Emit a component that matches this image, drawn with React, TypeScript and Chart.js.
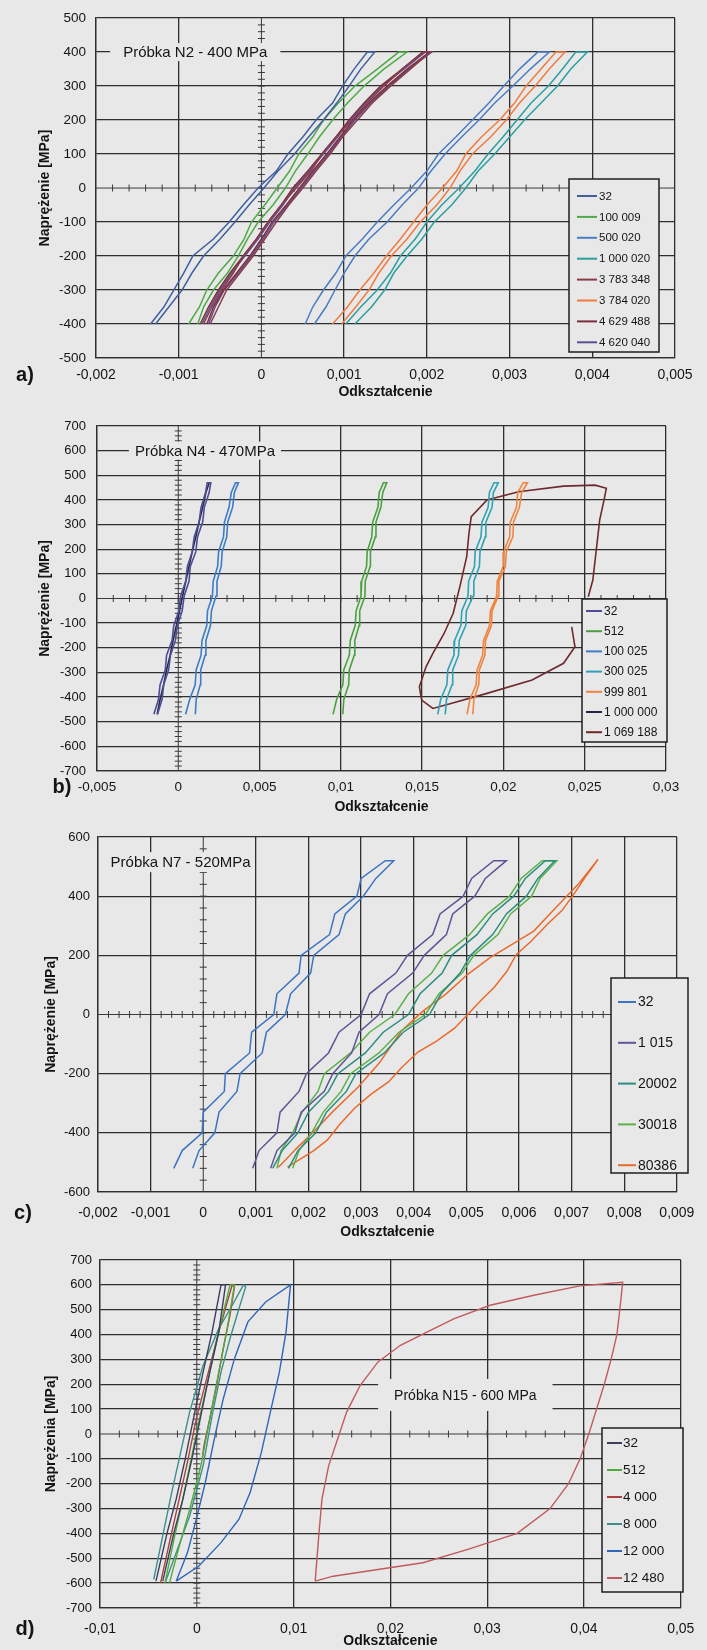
import React, { useEffect, useRef } from 'react';
import { Chart, registerables } from 'chart.js';

Chart.register(...registerables);

const FONT = "'Liberation Sans', Arial, Helvetica, sans-serif";
const PAGE_BG = '#e8e8e8';
const GRID = '#2e2e2e';
const INK = '#141414';

// ================= a) Próbka N2 - 400 MPa =================
const A_X_TICKS = [-0.002, -0.001, 0, 0.001, 0.002, 0.003, 0.004, 0.005];
const A_X_LABELS = ['-0,002', '-0,001', '0', '0,001', '0,002', '0,003', '0,004', '0,005'];
const A_Y_TICKS = [-500, -400, -300, -200, -100, 0, 100, 200, 300, 400, 500];
const A_STRESS = [-400, -350, -300, -250, -200, -150, -100, -50, 0, 50, 100, 150, 200, 250, 300, 350, 400];
const A_LABELS = ['32', '100 009', '500 020', '1 000 020', '3 783 348', '3 784 020', '4 629 488', '4 620 040'];
const A_COLORS = ['#3f5f9f', '#4daa45', '#4a7cc4', '#2a9fa0', '#8a3a48', '#f07b3f', '#7b2f3b', '#5d4f93'];
const A_32_UP = [-0.00128, -0.00112, -0.00096, -0.00084, -0.0007, -0.0005, -0.00032, -0.00015, 0.00003, 0.0002, 0.0004, 0.00057, 0.00075, 0.00091, 0.00106, 0.0012, 0.00137];
const A_32_DOWN = [0.00128, 0.00112, 0.00098, 0.00086, 0.00066, 0.0005, 0.00032, 0.00018, -0.00004, -0.00022, -0.00039, -0.00058, -0.00083, -0.00094, -0.00106, -0.00118, -0.00134];
const A_100009_UP = [-0.00077, -0.0007, -0.00058, -0.00041, -0.00028, -0.00017, -0.00004, 0.00014, 0.00029, 0.00041, 0.00056, 0.0007, 0.00086, 0.00104, 0.00124, 0.00148, 0.00176];
const A_100009_DOWN = [0.00166, 0.0014, 0.00113, 0.00093, 0.00075, 0.00062, 0.00045, 0.00034, 0.00019, 0.00004, -0.00012, -0.00021, -0.00034, -0.00052, -0.00066, -0.00075, -0.00088];
const A_500020_UP = [0.00064, 0.00078, 0.00089, 0.001, 0.00113, 0.0013, 0.00152, 0.0017, 0.0019, 0.00205, 0.00222, 0.00242, 0.00263, 0.00282, 0.00304, 0.00325, 0.00348];
const A_500020_DOWN = [0.00334, 0.00312, 0.00293, 0.00275, 0.00255, 0.00235, 0.00214, 0.002, 0.00181, 0.0016, 0.0014, 0.00122, 0.00102, 0.0009, 0.00075, 0.00062, 0.00053];
const A_1000020_UP = [0.00113, 0.00133, 0.00149, 0.0016, 0.00176, 0.00194, 0.00209, 0.0023, 0.00247, 0.00262, 0.00282, 0.003, 0.00318, 0.00338, 0.00358, 0.00374, 0.00394];
const A_1000020_DOWN = [0.0038, 0.00364, 0.00347, 0.00326, 0.00309, 0.00292, 0.00274, 0.00258, 0.00239, 0.00218, 0.002, 0.00186, 0.00168, 0.00156, 0.0014, 0.0012, 0.00102];
const A_3783348_UP = [-0.00062, -0.00052, -0.00042, -0.00026, -0.0001, 0.00004, 0.00018, 0.00033, 0.0005, 0.00066, 0.00083, 0.00098, 0.00116, 0.00134, 0.00156, 0.0018, 0.00204];
const A_3783348_DOWN = [0.00196, 0.0017, 0.00148, 0.00128, 0.0011, 0.0009, 0.00073, 0.0006, 0.00042, 0.00024, 0.00008, -0.00006, -0.00022, -0.00034, -0.00048, -0.0006, -0.0007];
const A_3784020_UP = [0.00097, 0.00114, 0.0013, 0.00142, 0.00157, 0.00176, 0.00192, 0.00212, 0.00228, 0.0024, 0.00255, 0.00277, 0.00296, 0.00312, 0.00331, 0.00348, 0.00367];
const A_3784020_DOWN = [0.00356, 0.00338, 0.0032, 0.00306, 0.00288, 0.00266, 0.00247, 0.00236, 0.00219, 0.002, 0.00184, 0.00168, 0.00151, 0.00136, 0.00119, 0.00104, 0.00086];
const A_4629488_UP = [-0.00066, -0.00058, -0.00046, -0.0003, -0.00014, 0.0, 0.00013, 0.0003, 0.00046, 0.00062, 0.00079, 0.00095, 0.00111, 0.0013, 0.00152, 0.00176, 0.00203];
const A_4629488_DOWN = [0.00195, 0.0017, 0.00144, 0.00124, 0.00106, 0.0009, 0.00073, 0.00056, 0.00038, 0.00024, 0.00008, -0.00006, -0.00022, -0.00038, -0.00052, -0.00064, -0.00074];
const A_4620040_UP = [-0.00064, -0.00056, -0.00045, -0.00028, -0.00012, 0.00002, 0.00015, 0.00032, 0.00048, 0.00064, 0.00081, 0.00097, 0.00113, 0.00132, 0.00154, 0.00178, 0.00206];
const A_4620040_DOWN = [0.00198, 0.00172, 0.00146, 0.00126, 0.00108, 0.00092, 0.00075, 0.00058, 0.0004, 0.00026, 0.0001, -0.00004, -0.0002, -0.00036, -0.0005, -0.00062, -0.00072];

// ================= b) Próbka N4 - 470MPa =================
const B_X_TICKS = [-0.005, 0, 0.005, 0.01, 0.015, 0.02, 0.025, 0.03];
const B_X_LABELS = ['-0,005', '0', '0,005', '0,01', '0,015', '0,02', '0,025', '0,03'];
const B_Y_TICKS = [-700, -600, -500, -400, -300, -200, -100, 0, 100, 200, 300, 400, 500, 600, 700];
const B_STRESS = [-470, -410, -350, -290, -230, -170, -110, -50, 10, 70, 130, 190, 250, 310, 370, 430, 470];
const B_LABELS = ['32', '512', '100 025', '300 025', '999 801', '1 000 000', '1 069 188'];
const B_COLORS = ['#4d4c96', '#4aa040', '#3d7cc6', '#2fa3b5', '#ef8440', '#262640', '#6e2a2e'];
const B_32_UP = [-0.00128, -0.001, -0.0009, -0.0006, -0.00048, -0.00018, -0.00006, 0.00024, 0.00036, 0.00066, 0.00074, 0.00108, 0.00118, 0.0015, 0.0016, 0.0019, 0.002];
const B_32_DOWN = [0.00178, 0.00168, 0.0014, 0.00128, 0.00098, 0.00086, 0.00056, 0.00046, 0.00014, 0.00004, -0.00028, -0.00038, -0.00072, -0.0008, -0.00112, -0.00122, -0.0015];
const B_512_UP = [0.01012, 0.01018, 0.01048, 0.01052, 0.01082, 0.01086, 0.01112, 0.01116, 0.01148, 0.0115, 0.0118, 0.01182, 0.01212, 0.01216, 0.01246, 0.01258, 0.01282];
const B_512_DOWN = [0.01262, 0.01236, 0.01228, 0.01196, 0.0119, 0.01162, 0.01158, 0.01128, 0.01124, 0.01094, 0.01088, 0.01058, 0.01052, 0.01018, 0.01012, 0.00974, 0.00952];
const B_100025_UP = [0.00105, 0.0011, 0.00135, 0.00138, 0.00165, 0.0017, 0.00198, 0.00204, 0.00232, 0.00238, 0.00264, 0.0027, 0.00298, 0.00304, 0.00334, 0.00345, 0.0037];
const B_100025_DOWN = [0.00352, 0.00326, 0.00312, 0.00284, 0.00278, 0.00248, 0.00242, 0.00215, 0.0021, 0.0018, 0.00175, 0.00146, 0.0014, 0.0011, 0.00104, 0.0007, 0.00045];
const B_300025_UP = [0.01642, 0.0165, 0.01684, 0.01688, 0.01724, 0.01728, 0.01768, 0.01772, 0.01814, 0.01818, 0.01852, 0.01856, 0.01888, 0.01892, 0.0193, 0.01938, 0.01968];
const B_300025_DOWN = [0.01942, 0.01914, 0.01906, 0.01868, 0.01862, 0.01826, 0.01822, 0.01786, 0.01782, 0.01744, 0.01738, 0.017, 0.01696, 0.01658, 0.01652, 0.01614, 0.01596];
const B_999801_UP = [0.01812, 0.01818, 0.01848, 0.01852, 0.01886, 0.0189, 0.01926, 0.0193, 0.01968, 0.01972, 0.02012, 0.02018, 0.02058, 0.02062, 0.02098, 0.02112, 0.02148];
const B_999801_DOWN = [0.02122, 0.02088, 0.0208, 0.02042, 0.02038, 0.02002, 0.01998, 0.01962, 0.01958, 0.0192, 0.01914, 0.01878, 0.01872, 0.01838, 0.01832, 0.01794, 0.01776];
const B_1000000_UP = [-0.0013, -0.00112, -0.0009, -0.00072, -0.0005, -0.00032, -0.00012, 0.00008, 0.00026, 0.00046, 0.00066, 0.00086, 0.00108, 0.00128, 0.0015, 0.0017, 0.0019];
const B_1069188_X = [0.0242, 0.0244, 0.0237, 0.02176, 0.01899, 0.01677, 0.01566, 0.01497, 0.01483, 0.01524, 0.01566, 0.01635, 0.01691, 0.01732, 0.01774, 0.01788, 0.01802, 0.01899, 0.02093, 0.0237, 0.02564, 0.02633, 0.02619, 0.02592, 0.02578, 0.02564, 0.0255, 0.02522];
const B_1069188_Y = [-115, -196, -263, -331, -385, -426, -446, -412, -358, -277, -223, -142, -60, 48, 170, 264, 332, 400, 433, 456, 460, 447, 400, 318, 237, 156, 75, 7];

// ================= c) Próbka N7 - 520MPa =================
const C_X_TICKS = [-0.002, -0.001, 0, 0.001, 0.002, 0.003, 0.004, 0.005, 0.006, 0.007, 0.008, 0.009];
const C_X_LABELS = ['-0,002', '-0,001', '0', '0,001', '0,002', '0,003', '0,004', '0,005', '0,006', '0,007', '0,008', '0,009'];
const C_Y_TICKS = [-600, -400, -200, 0, 200, 400, 600];
const C_STRESS = [-520, -460, -400, -330, -260, -200, -130, -60, 0, 70, 140, 200, 270, 340, 400, 460, 520];
const C_LABELS = ['32', '1 015', '20002', '30018', '80386'];
const C_COLORS = ['#3c74c4', '#5c5598', '#2b8c80', '#5cb04a', '#ea6a2c'];
const C_32_UP = [-0.0002, -0.00008, 0.00022, 0.0003, 0.00064, 0.0007, 0.00112, 0.0012, 0.00156, 0.00166, 0.00204, 0.0021, 0.00258, 0.0027, 0.00304, 0.00328, 0.00362];
const C_32_DOWN = [0.00346, 0.003, 0.00292, 0.0025, 0.0024, 0.00186, 0.00182, 0.0014, 0.00134, 0.00092, 0.00088, 0.00042, 0.0004, 0.0, -0.00002, -0.0004, -0.00056];
const C_1015_UP = [0.00128, 0.0014, 0.00174, 0.00186, 0.0023, 0.00246, 0.00282, 0.00296, 0.00334, 0.0035, 0.00398, 0.0042, 0.00462, 0.00474, 0.00516, 0.00536, 0.00576];
const C_1015_DOWN = [0.00552, 0.0051, 0.00494, 0.0045, 0.00436, 0.00388, 0.00366, 0.00316, 0.003, 0.00258, 0.00238, 0.00196, 0.00182, 0.00146, 0.0014, 0.00106, 0.00094];
const C_20002_UP = [0.00162, 0.0018, 0.00214, 0.00234, 0.00272, 0.0029, 0.00344, 0.0038, 0.0043, 0.00452, 0.00488, 0.00508, 0.0055, 0.00576, 0.00614, 0.00636, 0.00668];
const C_20002_DOWN = [0.0065, 0.00612, 0.0059, 0.0055, 0.0052, 0.00472, 0.00454, 0.00412, 0.0039, 0.00342, 0.00308, 0.00256, 0.00238, 0.002, 0.0018, 0.0015, 0.00132];
const C_30018_UP = [0.0017, 0.00182, 0.00206, 0.00228, 0.00262, 0.0028, 0.00334, 0.00372, 0.00422, 0.00448, 0.00492, 0.00514, 0.0056, 0.00584, 0.00624, 0.0064, 0.00672];
const C_30018_DOWN = [0.00644, 0.00604, 0.00582, 0.0054, 0.00506, 0.00456, 0.00434, 0.0039, 0.00364, 0.00316, 0.0028, 0.0023, 0.00218, 0.00188, 0.0017, 0.00148, 0.0014];
const C_80386_X = [0.00143, 0.00176, 0.00212, 0.00248, 0.00294, 0.00334, 0.00377, 0.00418, 0.00461, 0.00502, 0.00545, 0.00586, 0.00628, 0.00672, 0.00712, 0.0075, 0.00728, 0.00704, 0.00682, 0.00654, 0.00622, 0.00595, 0.00577, 0.00553, 0.00528, 0.00503, 0.00477, 0.00444, 0.00408, 0.00377, 0.00352, 0.00319, 0.00288, 0.0026, 0.00236, 0.0021, 0.0016];
const C_80386_Y = [-516, -455, -392, -325, -246, -165, -55, 12, 69, 135, 192, 236, 282, 365, 439, 524, 470, 406, 352, 305, 246, 203, 146, 92, 48, 1, -47, -89, -127, -179, -228, -269, -316, -370, -424, -460, -516];

// ================= d) Próbka N15 - 600 MPa =================
const D_X_TICKS = [-0.01, 0, 0.01, 0.02, 0.03, 0.04, 0.05];
const D_X_LABELS = ['-0,01', '0', '0,01', '0,02', '0,03', '0,04', '0,05'];
const D_Y_TICKS = [-700, -600, -500, -400, -300, -200, -100, 0, 100, 200, 300, 400, 500, 600, 700];
const D_LABELS = ['32', '512', '4 000', '8 000', '12 000', '12 480'];
const D_COLORS = ['#3b3e5e', '#52aa3c', '#a8403e', '#3d8f8a', '#3066b8', '#c05a5e'];
const D_32_X = [-0.00422, -0.00306, -0.00213, -0.0012, -0.00028, 0.00065, 0.00158, 0.0025, 0.00297, 0.00227, 0.00134, 0.00042, -0.00051, -0.00144, -0.00236, -0.00352];
const D_32_Y = [-592, -397, -262, -101, 74, 249, 411, 600, 600, 411, 249, 74, -101, -262, -397, -592];
const D_512_X = [-0.00329, -0.00236, -0.00144, -0.00051, 0.00042, 0.00134, 0.00227, 0.00343, 0.00389, 0.0032, 0.00227, 0.00134, 0.00042, -0.00074, -0.0019, -0.00283];
const D_512_Y = [-600, -424, -262, -87, 88, 249, 411, 600, 600, 438, 249, 61, -128, -303, -464, -600];
const D_4000_X = [-0.00375, -0.00283, -0.0019, -0.00097, -0.00005, 0.00111, 0.00227, 0.00366, 0.00389, 0.00343, 0.00273, 0.00204, 0.00134, 0.00074, 0.00056];
const D_4000_Y = [-600, -437, -276, -114, 61, 236, 411, 600, 592, 478, 343, 195, 61, -47, -101];
const D_8000_X = [-0.00445, -0.00352, -0.00259, -0.00167, -0.00074, 0.00065, 0.00227, 0.00366, 0.00482, 0.00505, 0.00436, 0.00343, 0.0025, 0.00158, 0.00065, -0.00074, -0.00213, -0.00329];
const D_8000_Y = [-585, -410, -235, -74, 88, 276, 424, 518, 600, 592, 505, 384, 249, 74, -128, -330, -478, -600];
const D_12000_X = [-0.00213, 0.00019, 0.0025, 0.00436, 0.00551, 0.00667, 0.0076, 0.00853, 0.00922, 0.00968, 0.00714, 0.00528, 0.00389, 0.00273, 0.00181, 0.00088, -0.00005, -0.00097, -0.00213];
const D_12000_Y = [-592, -532, -437, -343, -235, -74, 88, 249, 411, 600, 532, 451, 303, 141, -20, -195, -343, -478, -592];
const D_12480_X = [0.01223, 0.0126, 0.01293, 0.01362, 0.01455, 0.01548, 0.01687, 0.01872, 0.02104, 0.02382, 0.0266, 0.0303, 0.03494, 0.03957, 0.044, 0.0437, 0.0434, 0.0428, 0.0421, 0.0413, 0.0405, 0.0396, 0.0384, 0.0365, 0.0331, 0.028, 0.02336, 0.01872, 0.01409, 0.01223];
const D_12480_Y = [-592, -410, -262, -128, -20, 88, 195, 290, 357, 411, 464, 518, 559, 596, 610, 500, 400, 300, 200, 100, 0, -100, -200, -300, -400, -464, -518, -545, -572, -592];

// ---------- helpers ----------
type Pt = { x: number; y: number };
type Series = { label: string; color: string; points: Pt[] };

function loop(up: number[], down: number[], s: number[]): Pt[] {
  const pts = up.map((x, i) => ({ x, y: s[i] }));
  down.forEach((x, i) => pts.push({ x, y: s[s.length - 1 - i] }));
  return pts;
}
function pairs(xs: number[], ys: number[]): Pt[] {
  return xs.map((x, i) => ({ x, y: ys[i] }));
}

const A_SERIES: Series[] = [
  loop(A_32_UP, A_32_DOWN, A_STRESS),
  loop(A_100009_UP, A_100009_DOWN, A_STRESS),
  loop(A_500020_UP, A_500020_DOWN, A_STRESS),
  loop(A_1000020_UP, A_1000020_DOWN, A_STRESS),
  loop(A_3783348_UP, A_3783348_DOWN, A_STRESS),
  loop(A_3784020_UP, A_3784020_DOWN, A_STRESS),
  loop(A_4629488_UP, A_4629488_DOWN, A_STRESS),
  loop(A_4620040_UP, A_4620040_DOWN, A_STRESS),
].map((points, i) => ({ label: A_LABELS[i], color: A_COLORS[i], points }));

const B_SERIES: Series[] = [
  loop(B_32_UP, B_32_DOWN, B_STRESS),
  loop(B_512_UP, B_512_DOWN, B_STRESS),
  loop(B_100025_UP, B_100025_DOWN, B_STRESS),
  loop(B_300025_UP, B_300025_DOWN, B_STRESS),
  loop(B_999801_UP, B_999801_DOWN, B_STRESS),
  pairs(B_1000000_UP, B_STRESS),
  pairs(B_1069188_X, B_1069188_Y),
].map((points, i) => ({ label: B_LABELS[i], color: B_COLORS[i], points }));

const C_SERIES: Series[] = [
  loop(C_32_UP, C_32_DOWN, C_STRESS),
  loop(C_1015_UP, C_1015_DOWN, C_STRESS),
  loop(C_20002_UP, C_20002_DOWN, C_STRESS),
  loop(C_30018_UP, C_30018_DOWN, C_STRESS),
  pairs(C_80386_X, C_80386_Y),
].map((points, i) => ({ label: C_LABELS[i], color: C_COLORS[i], points }));

const D_SERIES: Series[] = [
  pairs(D_32_X, D_32_Y),
  pairs(D_512_X, D_512_Y),
  pairs(D_4000_X, D_4000_Y),
  pairs(D_8000_X, D_8000_Y),
  pairs(D_12000_X, D_12000_Y),
  pairs(D_12480_X, D_12480_Y),
].map((points, i) => ({ label: D_LABELS[i], color: D_COLORS[i], points }));

type PanelCfg = {
  top: number;
  height: number;
  plot: { left: number; right: number; top: number; bottom: number };
  xTicks: number[];
  xLabels: string[];
  yTicks: number[];
  xMinor: number;
  yMinor: number;
  series: Series[];
  lineWidth: number;
  yTitle: string;
  yTitleX: number;
  yLabelRight: number;
  xLabelY: number;
  xTitleY: number;
  xFont: number;
  yFont: number;
  tag: { text: string; x: number; y: number; size: number; padX: number; h: number };
  legend: { x: number; y: number; w: number; h: number; first: number; gap: number; lx0: number; lx1: number; tx: number; size: number };
  letter: { text: string; x: number; y: number };
};

const isZero = (v: any) => typeof v === 'number' && Math.abs(v) < 1e-12;

function decorPlugin(cfg: PanelCfg) {
  return {
    id: 'decor',
    beforeDatasetsDraw(chart: any) {
      const { ctx, chartArea: ca } = chart;
      const xs = chart.scales.x;
      const ys = chart.scales.y;
      const x0 = xs.getPixelForValue(0);
      const y0 = ys.getPixelForValue(0);
      const xMin = cfg.xTicks[0];
      const xMax = cfg.xTicks[cfg.xTicks.length - 1];
      const yMin = cfg.yTicks[0];
      const yMax = cfg.yTicks[cfg.yTicks.length - 1];
      ctx.save();
      ctx.strokeStyle = '#3a3a3a';
      ctx.lineWidth = 1;
      ctx.beginPath();
      ctx.moveTo(ca.left, y0);
      ctx.lineTo(ca.right, y0);
      ctx.moveTo(x0, ca.top);
      ctx.lineTo(x0, ca.bottom);
      const nx = Math.round((xMax - xMin) / cfg.xMinor);
      for (let i = 1; i < nx; i++) {
        const px = xs.getPixelForValue(xMin + i * cfg.xMinor);
        ctx.moveTo(px, y0 - 3.5);
        ctx.lineTo(px, y0 + 3.5);
      }
      const ny = Math.round((yMax - yMin) / cfg.yMinor);
      for (let i = 1; i < ny; i++) {
        const py = ys.getPixelForValue(yMin + i * cfg.yMinor);
        ctx.moveTo(x0 - 3.5, py);
        ctx.lineTo(x0 + 3.5, py);
      }
      ctx.stroke();
      ctx.restore();
    },
    afterDraw(chart: any) {
      const { ctx } = chart;
      const xs = chart.scales.x;
      const ys = chart.scales.y;
      ctx.save();
      const t = cfg.tag;
      const tx = xs.getPixelForValue(t.x);
      const ty = ys.getPixelForValue(t.y);
      ctx.font = `${t.size}px ${FONT}`;
      const w = ctx.measureText(t.text).width;
      ctx.fillStyle = PAGE_BG;
      ctx.fillRect(tx - w / 2 - t.padX, ty - t.h / 2, w + 2 * t.padX, t.h);
      ctx.fillStyle = INK;
      ctx.textAlign = 'center';
      ctx.textBaseline = 'middle';
      ctx.fillText(t.text, tx, ty + 1);
      const L = cfg.legend;
      const oy = cfg.top;
      ctx.fillStyle = PAGE_BG;
      ctx.fillRect(L.x, L.y - oy, L.w, L.h);
      ctx.strokeStyle = '#1e1e1e';
      ctx.lineWidth = 1.5;
      ctx.strokeRect(L.x, L.y - oy, L.w, L.h);
      ctx.font = `${L.size}px ${FONT}`;
      ctx.textAlign = 'left';
      ctx.textBaseline = 'middle';
      cfg.series.forEach((s, i) => {
        const yy = L.first + i * L.gap - oy;
        ctx.strokeStyle = s.color;
        ctx.lineWidth = 2;
        ctx.beginPath();
        ctx.moveTo(L.lx0, yy);
        ctx.lineTo(L.lx1, yy);
        ctx.stroke();
        ctx.fillStyle = INK;
        ctx.fillText(s.label, L.tx, yy + 0.5);
      });
      ctx.font = `bold 20px ${FONT}`;
      ctx.fillStyle = INK;
      ctx.textAlign = 'center';
      ctx.textBaseline = 'middle';
      ctx.fillText(cfg.letter.text, cfg.letter.x, cfg.letter.y - oy);
      ctx.restore();
    },
  };
}

function Panel({ cfg }: { cfg: PanelCfg }) {
  const ref = useRef<HTMLCanvasElement | null>(null);
  useEffect(() => {
    const canvas = ref.current;
    if (!canvas) return;
    const p = cfg.plot;
    const xMin = cfg.xTicks[0];
    const xMax = cfg.xTicks[cfg.xTicks.length - 1];
    const yMin = cfg.yTicks[0];
    const yMax = cfg.yTicks[cfg.yTicks.length - 1];
    const xLH = cfg.xFont * 1.2;
    const gridColor = (c: any) => (c.tick && isZero(c.tick.value) ? 'rgba(0,0,0,0)' : GRID);
    const chart = new Chart(canvas, {
      type: 'scatter',
      data: {
        datasets: cfg.series.map((s) => ({
          label: s.label,
          data: s.points,
          showLine: true,
          borderColor: s.color,
          backgroundColor: s.color,
          borderWidth: cfg.lineWidth,
          pointRadius: 0,
          pointHoverRadius: 0,
          tension: 0,
          fill: false,
        })),
      },
      options: {
        responsive: false,
        animation: false,
        events: [],
        layout: { padding: { left: 0, right: 707 - p.right, top: p.top - cfg.top, bottom: 0 } },
        plugins: { legend: { display: false }, tooltip: { enabled: false }, title: { display: false } },
        scales: {
          x: {
            type: 'linear',
            position: 'bottom',
            min: xMin,
            max: xMax,
            afterBuildTicks: (s: any) => {
              s.ticks = cfg.xTicks.map((v) => ({ value: v }));
            },
            afterFit: (s: any) => {
              s.height = cfg.top + cfg.height - p.bottom;
            },
            ticks: {
              autoSkip: false,
              maxRotation: 0,
              minRotation: 0,
              padding: cfg.xLabelY - p.bottom - xLH / 2,
              color: INK,
              font: { family: FONT, size: cfg.xFont },
              callback: (_v: any, i: number) => cfg.xLabels[i],
            },
            grid: { color: gridColor, lineWidth: 1.3, drawTicks: false },
            border: { color: GRID, width: 1.3 },
            title: {
              display: true,
              text: 'Odkształcenie',
              color: INK,
              font: { family: FONT, size: 14, weight: 'bold' },
              padding: { top: 0, bottom: Math.max(0, cfg.top + cfg.height - cfg.xTitleY - 8.4) },
            },
          },
          y: {
            type: 'linear',
            position: 'left',
            min: yMin,
            max: yMax,
            afterBuildTicks: (s: any) => {
              s.ticks = cfg.yTicks.map((v) => ({ value: v }));
            },
            afterFit: (s: any) => {
              s.width = p.left;
            },
            ticks: {
              autoSkip: false,
              padding: p.left - cfg.yLabelRight,
              color: INK,
              font: { family: FONT, size: cfg.yFont },
              callback: (v: any) => String(v),
            },
            grid: { color: gridColor, lineWidth: 1.3, drawTicks: false },
            border: { color: GRID, width: 1.3 },
            title: {
              display: true,
              text: cfg.yTitle,
              color: INK,
              font: { family: FONT, size: 14, weight: 'bold' },
              padding: { top: cfg.yTitleX - 8.4, bottom: 0 },
            },
          },
        },
      },
      plugins: [decorPlugin(cfg)],
    } as any);
    return () => chart.destroy();
  }, [cfg]);
  return (
    <canvas
      ref={ref}
      width={707}
      height={cfg.height}
      style={{ position: 'absolute', left: 0, top: cfg.top, width: 707, height: cfg.height }}
    />
  );
}

const PANEL_A: PanelCfg = {
  top: 0,
  height: 410,
  plot: { left: 96, right: 675, top: 16, bottom: 358 },
  xTicks: A_X_TICKS,
  xLabels: A_X_LABELS,
  yTicks: A_Y_TICKS,
  xMinor: 0.0002,
  yMinor: 20,
  series: A_SERIES,
  lineWidth: 1.5,
  yTitle: 'Naprężenie [MPa]',
  yTitleX: 45,
  yLabelRight: 86,
  xLabelY: 375,
  xTitleY: 392,
  xFont: 14,
  yFont: 13.5,
  tag: { text: 'Próbka N2 - 400 MPa', x: -0.0008, y: 400, size: 15, padX: 13, h: 18 },
  legend: { x: 569, y: 179, w: 90, h: 173, first: 196, gap: 20.9, lx0: 577, lx1: 597, tx: 599, size: 11.5 },
  letter: { text: 'a)', x: 25, y: 375 },
};

const PANEL_B: PanelCfg = {
  top: 400,
  height: 420,
  plot: { left: 97, right: 666, top: 426, bottom: 771 },
  xTicks: B_X_TICKS,
  xLabels: B_X_LABELS,
  yTicks: B_Y_TICKS,
  xMinor: 0.001,
  yMinor: 20,
  series: B_SERIES,
  lineWidth: 1.6,
  yTitle: 'Naprężenie [MPa]',
  yTitleX: 45,
  yLabelRight: 86,
  xLabelY: 787,
  xTitleY: 807,
  xFont: 13.5,
  yFont: 13,
  tag: { text: 'Próbka N4 - 470MPa', x: 0.00164, y: 600, size: 15, padX: 6, h: 18 },
  legend: { x: 582, y: 599, w: 85, h: 143, first: 611, gap: 20.2, lx0: 586, lx1: 602, tx: 604, size: 12 },
  letter: { text: 'b)', x: 62, y: 787 },
};

const PANEL_C: PanelCfg = {
  top: 810,
  height: 440,
  plot: { left: 98, right: 688, top: 837, bottom: 1192 },
  xTicks: C_X_TICKS,
  xLabels: C_X_LABELS,
  yTicks: C_Y_TICKS,
  xMinor: 0.0002,
  yMinor: 40,
  series: C_SERIES,
  lineWidth: 1.5,
  yTitle: 'Naprężenie [MPa]',
  yTitleX: 51,
  yLabelRight: 90,
  xLabelY: 1213,
  xTitleY: 1232,
  xFont: 14,
  yFont: 13,
  tag: { text: 'Próbka N7 - 520MPa', x: -0.00043, y: 515, size: 15, padX: 4, h: 20 },
  legend: { x: 611, y: 978, w: 77, h: 195, first: 1002, gap: 40.8, lx0: 618, lx1: 636, tx: 638, size: 14 },
  letter: { text: 'c)', x: 23, y: 1213 },
};

const PANEL_D: PanelCfg = {
  top: 1230,
  height: 420,
  plot: { left: 100, right: 686, top: 1260, bottom: 1608 },
  xTicks: D_X_TICKS,
  xLabels: D_X_LABELS,
  yTicks: D_Y_TICKS,
  xMinor: 0.002,
  yMinor: 20,
  series: D_SERIES,
  lineWidth: 1.4,
  yTitle: 'Naprężenia [MPa]',
  yTitleX: 51,
  yLabelRight: 92,
  xLabelY: 1629,
  xTitleY: 1642,
  xFont: 14,
  yFont: 13,
  tag: { text: 'Próbka N15 - 600 MPa', x: 0.02774, y: 157, size: 14, padX: 16, h: 32 },
  legend: { x: 602, y: 1428, w: 81, h: 164, first: 1443, gap: 27, lx0: 607, lx1: 622, tx: 623, size: 13.5 },
  letter: { text: 'd)', x: 25, y: 1629 },
};

export default function App() {
  return (
    <div
      style={{
        position: 'absolute',
        left: 0,
        top: 0,
        width: 707,
        height: 1650,
        background: PAGE_BG,
        overflow: 'hidden',
      }}
    >
      <Panel cfg={PANEL_A} />
      <Panel cfg={PANEL_B} />
      <Panel cfg={PANEL_C} />
      <Panel cfg={PANEL_D} />
    </div>
  );
}
